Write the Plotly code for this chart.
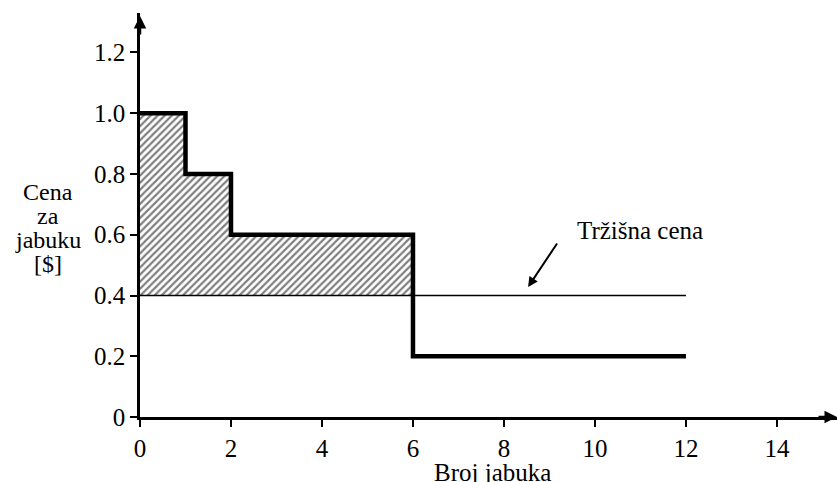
import plotly.graph_objects as go

# step demand curve (price per apple vs number of apples)
step_x = [0, 1, 1, 2, 2, 6, 6, 12]
step_y = [1.0, 1.0, 0.8, 0.8, 0.6, 0.6, 0.2, 0.2]

# market price
market_x = [0, 12]
market_y = [0.4, 0.4]
market_price = 0.4

x_ticks = [0, 2, 4, 6, 8, 10, 12, 14]
y_ticks = [0, 0.2, 0.4, 0.6, 0.8, 1.0, 1.2]
y_ticklabels = ["0", "0.2", "0.4", "0.6", "0.8", "1.0", "1.2"]

y_title_lines = ["Cena", "za", "jabuku", "[$]"]

FONT = "Liberation Serif"
W, H = 837, 482
L, R, T, B = 140, 0, 13, 65

# hatched surplus region: step curve down to the market price, up to x=6
surplus_x = step_x[:6] + [step_x[5], 0]
surplus_y = step_y[:6] + [market_price, market_price]

fig = go.Figure()
fig.add_trace(
    go.Scatter(
        x=surplus_x,
        y=surplus_y,
        fill="toself",
        mode="none",
        fillcolor="white",
        fillpattern=dict(shape="/", fgcolor="black", bgcolor="white", size=5, solidity=0.45),
        showlegend=False,
    )
)
fig.add_trace(
    go.Scatter(
        x=market_x, y=market_y, mode="lines",
        line=dict(color="black", width=1.5), showlegend=False,
    )
)
fig.add_trace(
    go.Scatter(
        x=step_x, y=step_y, mode="lines",
        line=dict(color="black", width=4.5), showlegend=False,
    )
)

# axis arrows
fig.add_annotation(x=15.32, y=0, ax=-20, ay=0, xref="x", yref="y",
                   showarrow=True, arrowhead=2, arrowsize=1, arrowwidth=2.5,
                   arrowcolor="black", text="")
fig.add_annotation(x=0, y=1.32, ax=0, ay=20, xref="x", yref="y",
                   showarrow=True, arrowhead=2, arrowsize=1, arrowwidth=2.5,
                   arrowcolor="black", text="")

# market price label
fig.add_annotation(x=8.53, y=0.428, ax=30, ay=-45, xref="x", yref="y",
                   showarrow=True, arrowhead=2, arrowsize=1, arrowwidth=2,
                   arrowcolor="black", text="")
fig.add_annotation(x=11.0, y=0.615, xref="x", yref="y", showarrow=False,
                   text="Tržišna cena", font=dict(family=FONT, size=25, color="black"))

# y axis title, one line at a time (tight line spacing)
for i, line in enumerate(y_title_lines):
    fig.add_annotation(
        x=(48 - L) / (W - L - R), y=1 - (192 + 24 * i - T) / (H - T - B),
        xref="paper", yref="paper", xanchor="center", yanchor="middle",
        showarrow=False, text=line,
        font=dict(family=FONT, size=24, color="black"),
    )

fig.add_annotation(x=7.74, y=1 - (457 - T) / (H - T - B), xref="x", yref="paper",
                   yanchor="top", showarrow=False, text="Broj jabuka",
                   font=dict(family=FONT, size=25, color="black"))

fig.update_xaxes(
    range=[0, 15.32], tickvals=x_ticks, ticks="outside", ticklen=7,
    tickwidth=2, tickcolor="black", showline=True, linecolor="black",
    linewidth=2.5, showgrid=False, zeroline=False,
    tickfont=dict(family=FONT, size=25, color="black"),
)
fig.update_yaxes(
    range=[0, 1.33], tickvals=y_ticks, ticktext=y_ticklabels, ticks="outside",
    ticklen=7, tickwidth=2, tickcolor="black", showline=True,
    linecolor="black", linewidth=2.5, showgrid=False, zeroline=False,
    tickfont=dict(family=FONT, size=25, color="black"),
)
fig.update_layout(
    width=W, height=H,
    margin=dict(l=L, r=R, t=T, b=B, autoexpand=False),
    plot_bgcolor="white", paper_bgcolor="white",
)

fig.write_html("out.html", config={"displayModeBar": False},
               post_script="document.body.style.margin='0';")
